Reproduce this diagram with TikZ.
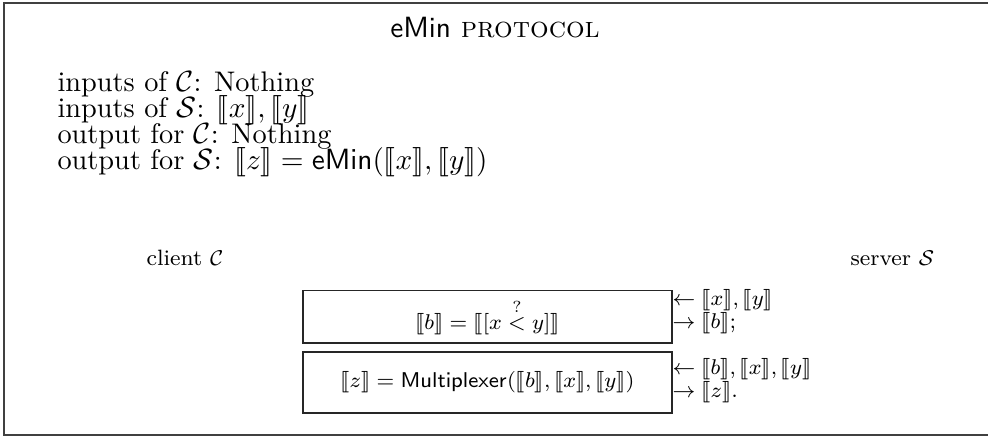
\documentclass[tikz,border=0pt]{standalone}
\usepackage{stmaryrd}
\newcommand{\enc}[1]{\llbracket #1\rrbracket}
\begin{document}
\begin{tikzpicture}[x=0.374pt,y=-0.374pt,
  frameline/.style={draw=black!75,line width=0.55pt},
  txt/.style={inner sep=0pt,anchor=base west},
  head/.style={font=\fontsize{10.6}{13}\selectfont},
  small/.style={font=\fontsize{8.3}{10}\selectfont},
  opbox/.style={draw=black!85,line width=0.4pt,inner sep=0pt,minimum width=138pt,font=\fontsize{8.3}{10}\selectfont}]
\useasboundingbox (0,0) rectangle (988,439);
\draw[frameline] (988,3) -- (4,3) -- (4,435) -- (988,435);
\node[txt,anchor=base,font=\fontsize{10.95}{13.6}\selectfont] (title) at (495,37) {\textsf{eMin} \textsc{protocol}};
\node[txt,head] (l1) at (57,91) {inputs of $\mathcal{C}$: Nothing};
\node[txt,head] (l2) at (57,117) {inputs of $\mathcal{S}$: $\enc{x},\enc{y}$};
\node[txt,head] (l3) at (57,143) {output for $\mathcal{C}$: Nothing};
\node[txt,head] (l4) at (57,169) {output for $\mathcal{S}$: $\enc{z} = \mathsf{eMin}(\enc{x},\enc{y})$};
\node[txt,small] (client) at (146,265) {client $\mathcal{C}$};
\node[txt,small] (server) at (850,265) {server $\mathcal{S}$};
\node[opbox,minimum height=19.8pt] (cmp) at (487.5,316.5) {$\enc{b} = \enc{[x \stackrel{?}{<} y]}$};
\node[opbox,minimum height=22.8pt] (mux) at (487.5,382.5) {$\enc{z} = \mathsf{Multiplexer}(\enc{b},\enc{x},\enc{y})$};
\node[txt,small] (in1) at (672,305) {$\leftarrow \enc{x},\enc{y}$};
\node[txt,small] (out1) at (672,328) {$\rightarrow \enc{b}$;};
\node[txt,small] (in2) at (672,374) {$\leftarrow \enc{b},\enc{x},\enc{y}$};
\node[txt,small] (out2) at (672,397) {$\rightarrow \enc{z}$.};
\end{tikzpicture}
\end{document}
